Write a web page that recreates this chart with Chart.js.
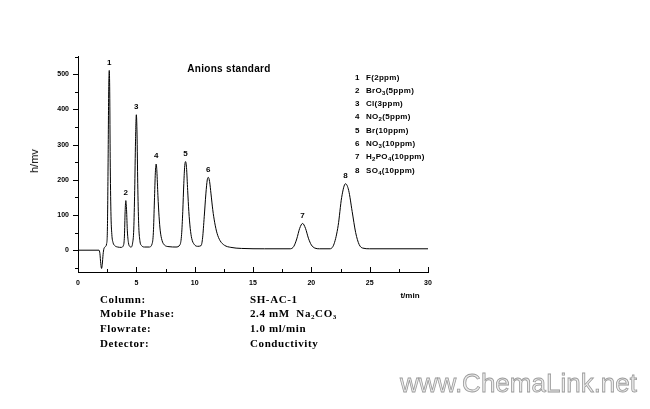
<!DOCTYPE html>
<html><head><meta charset="utf-8">
<script src="https://cdn.jsdelivr.net/npm/chart.js@4.4.1/dist/chart.umd.min.js"></script>
<style>
html,body{margin:0;padding:0;background:#fff;}
#wrap{position:relative;width:650px;height:409px;overflow:hidden;background:#fff;}
canvas{position:absolute;left:0;top:0;}
.t{position:absolute;white-space:nowrap;color:#000;line-height:1;}
.lg{font:bold 8px "Liberation Sans",Arial,sans-serif;letter-spacing:0.3px;}
.lg sub{font-size:6px;vertical-align:-2px;line-height:0;}
.info{font:bold 11px "Liberation Serif","Times New Roman",serif;letter-spacing:0.6px;}
.info sub{font-size:7px;vertical-align:-2px;line-height:0;}
</style></head><body>
<div id="wrap">
<canvas id="c" width="650" height="409"></canvas>
<div class="t" style="left:229px;top:63px;transform:translateX(-50%);font:bold 10px 'Liberation Sans',Arial,sans-serif;letter-spacing:0.3px;">Anions standard</div>
<div class="t" style="left:34px;top:161px;transform:translate(-50%,-50%) rotate(-90deg);font:11px 'Liberation Sans',Arial,sans-serif;">h/mv</div>
<div class="t" style="left:410px;top:291px;transform:translateX(-50%);font:bold 8px 'Liberation Sans',Arial,sans-serif;">t/min</div>
<div id="legend"></div>
<div id="info"></div>
<div class="t" style="left:400px;top:368px;font:26px 'Liberation Sans',Arial,sans-serif;color:#ececec;-webkit-text-stroke:0.8px #9a9a9a;">www.ChemaLink.net</div>
</div>
<script>
// chromatogram trace (time in min, signal in mV)
const times  = [0,1.80,1.88,1.95,2.02,2.08,2.15,2.22,2.35,2.45,2.52,2.58,2.63,2.68,2.72,2.76,2.82,2.90,3.00,3.15,3.40,3.70,
  3.90,3.98,4.04,4.10,4.16,4.23,4.32,4.42,4.55,4.68,4.78,4.86,4.93,5.00,5.06,5.12,5.20,5.30,5.45,5.70,6.10,
  6.35,6.46,6.55,6.63,6.70,6.76,6.85,6.95,7.05,7.20,7.40,7.80,8.40,8.75,8.88,8.98,9.07,9.15,9.22,9.30,9.40,9.50,9.62,9.75,9.95,10.25,
  10.55,10.68,10.82,10.96,11.08,11.17,11.28,11.40,11.55,11.72,11.92,12.18,12.55,13.10,14.0,16.0,18.2,
  18.5,18.75,19.0,19.25,19.5,19.75,20.0,20.3,20.7,21.6,21.95,22.3,22.6,22.93,23.2,23.5,23.8,24.1,24.4,25.0,30.0];
const signal = [0,0,-10,-38,-52,-40,-12,4,10,18,60,250,450,511,450,260,110,45,22,13,9,8,
  14,40,110,141,115,55,22,11,9,20,60,170,310,385,330,190,75,28,13,9,9,
  18,50,140,220,245,225,155,95,55,28,15,10,9,16,45,110,190,240,252,235,170,110,62,33,17,11,
  13,35,95,160,200,207,195,160,115,78,48,27,14,8,5,4,4,
  11,32,62,76,62,34,15,6,4,4,18,70,150,189,170,110,50,16,6,4,4];
// peaks
const peakNames   = ["1","2","3","4","5","6","7","8"];
const peakTimes   = [2.68,4.10,5.00,6.70,9.22,11.17,19.25,22.93];
const peakHeights = [511,141,385,245,252,207,76,189];
// axis ticks
const xTickStep = 5, xMinorStep = 2.5, xMin = 0, xMax = 30;
const yTickStep = 100, yMinorStep = 50, yMin = -62, yMax = 552;
// legend list and run conditions
const legendNums  = ["1","2","3","4","5","6","7","8"];
const legendItems = ["F(2ppm)","BrO<sub>3</sub>(5ppm)","Cl(3ppm)","NO<sub>2</sub>(5ppm)","Br(10ppm)","NO<sub>3</sub>(10ppm)","H<sub>2</sub>PO<sub>4</sub>(10ppm)","SO<sub>4</sub>(10ppm)"];
const infoLabels = ["Column:","Mobile Phase:","Flowrate:","Detector:"];
const infoValues = ["SH-AC-1","2.4 mM&nbsp;&nbsp;Na<sub>2</sub>CO<sub>3</sub>","1.0 ml/min","Conductivity"];

// legend / info text
const lg = document.getElementById('legend');
legendNums.forEach((n,i)=>{
  const top = 72.5 + i*13.3;
  lg.insertAdjacentHTML('beforeend',
   `<div class="t lg" style="left:355px;top:${top}px">${n}</div><div class="t lg" style="left:366px;top:${top}px">${legendItems[i]}</div>`);
});
const inf = document.getElementById('info');
infoLabels.forEach((l,i)=>{
  const top = 292.5 + i*14.8;
  inf.insertAdjacentHTML('beforeend',
   `<div class="t info" style="left:100px;top:${top}px">${l}</div><div class="t info" style="left:250px;top:${top}px">${infoValues[i]}</div>`);
});

const tickFont = {family:"'Liberation Sans', Arial, sans-serif", size:7, weight:'bold'};

const tickMarks = {
  id:'tickMarks',
  afterDraw(chart){
    const c = chart.ctx, xs = chart.scales.x, ys = chart.scales.y;
    c.save(); c.strokeStyle='#000'; c.lineWidth=1; c.beginPath();
    for(let v=xMin; v<=xMax+1e-9; v+=xMinorStep){
      const px = Math.round(xs.getPixelForValue(v))+0.5;
      const len = (Math.abs(v % xTickStep) < 1e-9) ? 5 : 3;
      c.moveTo(px, xs.top); c.lineTo(px, xs.top-len);
    }
    for(let v=Math.ceil(yMin/yMinorStep)*yMinorStep; v<=yMax; v+=yMinorStep){
      const py = Math.round(ys.getPixelForValue(v))+0.5;
      const len = (Math.abs(v % yTickStep) < 1e-9) ? 5 : 3;
      c.moveTo(ys.right-len, py); c.lineTo(ys.right, py);
    }
    c.stroke(); c.restore();
  }
};
const peakLabels = {
  id:'peakLabels',
  afterDatasetsDraw(chart){
    const c = chart.ctx, xs = chart.scales.x, ys = chart.scales.y;
    c.save(); c.fillStyle='#000'; c.font="bold 8px 'Liberation Sans', Arial, sans-serif";
    c.textAlign='center'; c.textBaseline='bottom';
    peakNames.forEach((n,i)=>{
      c.fillText(n, xs.getPixelForValue(peakTimes[i]), ys.getPixelForValue(peakHeights[i]) - 4);
    });
    c.restore();
  }
};

new Chart(document.getElementById('c'), {
  type:'line',
  data:{datasets:[{
    data: times.map((t,i)=>({x:t, y:signal[i]})),
    borderColor:'#000', borderWidth:1, pointRadius:0, fill:false,
    cubicInterpolationMode:'monotone'
  }]},
  options:{
    responsive:false, animation:false, events:[],
    plugins:{legend:{display:false}, tooltip:{enabled:false}, title:{display:false}},
    layout:{padding:{left:0, top:56, right:222, bottom:0}},
    scales:{
      x:{type:'linear', min:xMin, max:xMax,
         ticks:{stepSize:xTickStep, font:tickFont, color:'#000', padding:7, maxRotation:0, includeBounds:false},
         grid:{display:false, drawTicks:false}, border:{display:true, color:'#000', width:1},
         afterFit(s){ s.height = 137; }},
      y:{type:'linear', min:yMin, max:yMax,
         ticks:{stepSize:yTickStep, font:tickFont, color:'#000', padding:9, includeBounds:false},
         grid:{display:false, drawTicks:false}, border:{display:true, color:'#000', width:1},
         afterFit(s){ s.width = 78; }}
    }
  },
  plugins:[tickMarks, peakLabels]
});
</script>
</body></html>
